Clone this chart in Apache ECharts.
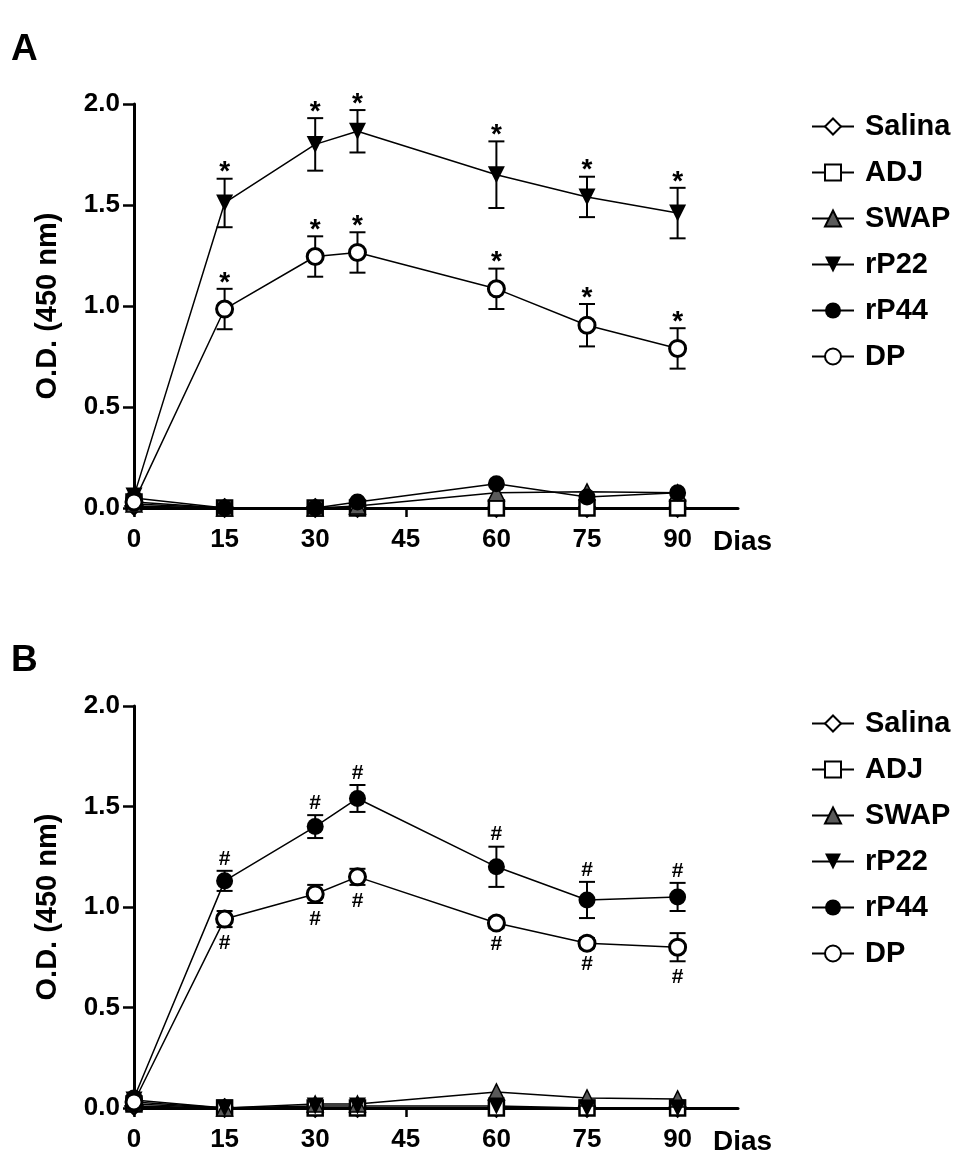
<!DOCTYPE html>
<html>
<head>
<meta charset="utf-8">
<script src="https://cdn.jsdelivr.net/npm/echarts@6/dist/echarts.min.js"></script>
<style>
  html, body { margin: 0; padding: 0; background: #fff; }
  #chart { width: 979px; height: 1156px; }
</style>
</head>
<body>
<div id="chart"></div>
<script>
// x values (days) and tick labels
const days = [0, 15, 30, 37, 60, 75, 90];
const xTicks = [0, 15, 30, 45, 60, 75, 90];
const yTicks = [0, 0.5, 1.0, 1.5, 2.0];
const groups = ['Salina', 'ADJ', 'SWAP', 'rP22', 'rP44', 'DP'];

// panel A
const salinaA = [0.01, 0, 0, 0, 0, 0, 0];
const adjA = [0.03, 0, 0, 0, 0, 0, 0];
const swapA = [0.02, 0, 0, 0.01, 0.075, 0.08, 0.075];
const p22A = [0.06, 1.51, 1.80, 1.865, 1.65, 1.54, 1.46];
const p22AErr = [0, 0.12, 0.13, 0.105, 0.165, 0.10, 0.125];
const p44A = [0.05, 0, 0, 0.03, 0.12, 0.055, 0.075];
const dpA = [0.03, 0.985, 1.245, 1.265, 1.085, 0.905, 0.79];
const dpAErr = [0, 0.10, 0.10, 0.10, 0.10, 0.105, 0.10];
const p22AMarks = ['', '*', '*', '*', '*', '*', '*'];
const dpAMarks = ['', '*', '*', '*', '*', '*', '*'];

// panel B
const salinaB = [0.01, 0, 0, 0, 0, 0, 0];
const adjB = [0.02, 0, 0, 0, 0, 0, 0];
const swapB = [0.03, 0, 0.02, 0.02, 0.08, 0.05, 0.045];
const p22B = [0.04, 0, 0.01, 0.01, 0.01, 0, 0];
const p44B = [0.05, 1.13, 1.40, 1.54, 1.20, 1.035, 1.05];
const p44BErr = [0, 0.05, 0.057, 0.067, 0.10, 0.09, 0.07];
const dpB = [0.03, 0.94, 1.065, 1.15, 0.92, 0.82, 0.80];
const dpBErr = [0, 0.04, 0.045, 0.04, 0.025, 0.025, 0.07];
const p44BMarks = ['', '#', '#', '#', '#', '#', '#'];
const dpBMarks = ['', '#', '#', '#', '#', '#', '#'];

const FONT = '"Liberation Sans", Arial, sans-serif';

// marker styles per group
const styles = {
  Salina: { symbol: 'diamond', symbolSize: 17, itemStyle: { color: '#fff', borderColor: '#000', borderWidth: 2.5 } },
  ADJ: { symbol: 'rect', symbolSize: 15, itemStyle: { color: '#fff', borderColor: '#000', borderWidth: 2.5 } },
  SWAP: { symbol: 'triangle', symbolSize: 16, itemStyle: { color: '#5a5a5a', borderColor: '#000', borderWidth: 1.5 } },
  rP22: { symbol: 'triangle', symbolRotate: 180, symbolSize: 17, itemStyle: { color: '#000' } },
  rP44: { symbol: 'circle', symbolSize: 17, itemStyle: { color: '#000' } },
  DP: { symbol: 'circle', symbolSize: 16, itemStyle: { color: '#fff', borderColor: '#000', borderWidth: 3 } }
};

function pairs(vals) {
  return days.map((d, i) => [d, vals[i]]);
}

function lineSeries(name, vals, idx) {
  return Object.assign({
    name: name,
    type: 'line',
    xAxisIndex: idx,
    yAxisIndex: idx,
    data: pairs(vals),
    lineStyle: { color: '#000', width: 1.5 },
    showAllSymbol: true,
    z: 3,
    animation: false
  }, styles[name]);
}

// error bars + significance marks
function errSeries(vals, errs, marks, side, font, idx) {
  return {
    type: 'custom',
    xAxisIndex: idx,
    yAxisIndex: idx,
    z: 2,
    silent: true,
    animation: false,
    data: days.map((d, i) => [d, vals[i], errs[i]]),
    renderItem: function (params, api) {
      const x = api.value(0), m = api.value(1), e = api.value(2);
      const top = api.coord([x, m + e]);
      const bot = api.coord([x, m - e]);
      const ls = { stroke: '#000', lineWidth: 2 };
      const children = [];
      if (e > 0) {
        children.push({ type: 'line', shape: { x1: top[0], y1: top[1], x2: bot[0], y2: bot[1] }, style: ls });
        children.push({ type: 'line', shape: { x1: top[0] - 8, y1: top[1], x2: top[0] + 8, y2: top[1] }, style: ls });
        children.push({ type: 'line', shape: { x1: bot[0] - 8, y1: bot[1], x2: bot[0] + 8, y2: bot[1] }, style: ls });
      }
      const mark = marks[params.dataIndex];
      if (mark) {
        const isStar = mark === '*';
        const y = side === 'top'
          ? top[1] - (isStar ? 6 : 12)
          : bot[1] + 16;
        children.push({
          type: 'text',
          style: {
            text: mark, x: top[0], y: y,
            align: 'center', verticalAlign: 'middle',
            font: 'bold ' + font + 'px ' + FONT, fill: '#000'
          }
        });
      }
      return { type: 'group', children: children };
    }
  };
}

function makeAxes(idx) {
  return {
    x: {
      type: 'value', gridIndex: idx, min: 0, max: 100,
      name: 'Dias', nameLocation: 'end', nameGap: -25,
      nameTextStyle: { fontSize: 28, fontWeight: 'bold', color: '#000', fontFamily: FONT, verticalAlign: 'top', padding: [20, 0, 0, 0] },
      axisLine: { lineStyle: { color: '#000', width: 3 } },
      axisTick: { length: 9, lineStyle: { width: 2.5, color: '#000' }, customValues: xTicks },
      axisLabel: { fontSize: 26, fontWeight: 'bold', color: '#000', fontFamily: FONT, margin: 19, customValues: xTicks },
      splitLine: { show: false }
    },
    y: {
      type: 'value', gridIndex: idx, min: 0, max: 2,
      name: 'O.D. (450 nm)', nameLocation: 'middle', nameGap: 72,
      nameTextStyle: { fontSize: 29, fontWeight: 'bold', color: '#000', fontFamily: FONT },
      axisLine: { show: true, lineStyle: { color: '#000', width: 3 } },
      axisTick: { show: true, length: 11, lineStyle: { width: 2.5, color: '#000' }, customValues: yTicks },
      axisLabel: { fontSize: 26, fontWeight: 'bold', color: '#000', fontFamily: FONT, margin: 14,
        customValues: yTicks, formatter: v => v.toFixed(1) },
      splitLine: { show: false }
    }
  };
}

const axA = makeAxes(0);
const axB = makeAxes(1);

function legendAt(top) {
  return {
    data: groups, orient: 'vertical', left: 806, top: top,
    itemWidth: 42, itemHeight: 20, itemGap: 17,
    textStyle: { fontSize: 29, fontWeight: 'bold', color: '#000', fontFamily: FONT, padding: [0, 0, 0, 6] },
    selectedMode: false
  };
}

const chart = echarts.init(document.getElementById('chart'));
chart.setOption({
  backgroundColor: '#fff',
  animation: false,
  title: [
    { text: 'A', left: 6, top: 26, textStyle: { fontSize: 37, fontWeight: 'bold', color: '#000', fontFamily: FONT } },
    { text: 'B', left: 6, top: 637, textStyle: { fontSize: 37, fontWeight: 'bold', color: '#000', fontFamily: FONT } }
  ],
  legend: [legendAt(107), legendAt(704)],
  grid: [
    { left: 134, top: 104, width: 604, height: 404 },
    { left: 134, top: 706, width: 604, height: 403 }
  ],
  xAxis: [axA.x, axB.x],
  yAxis: [axA.y, axB.y],
  series: [
    errSeries(p22A, p22AErr, p22AMarks, 'top', 28, 0),
    errSeries(dpA, dpAErr, dpAMarks, 'top', 28, 0),
    lineSeries('Salina', salinaA, 0),
    lineSeries('ADJ', adjA, 0),
    lineSeries('SWAP', swapA, 0),
    lineSeries('rP44', p44A, 0),
    lineSeries('rP22', p22A, 0),
    lineSeries('DP', dpA, 0),

    errSeries(p44B, p44BErr, p44BMarks, 'top', 21, 1),
    errSeries(dpB, dpBErr, dpBMarks, 'bottom', 21, 1),
    lineSeries('Salina', salinaB, 1),
    lineSeries('ADJ', adjB, 1),
    lineSeries('SWAP', swapB, 1),
    lineSeries('rP22', p22B, 1),
    lineSeries('rP44', p44B, 1),
    lineSeries('DP', dpB, 1)
  ]
});
</script>
</body>
</html>
